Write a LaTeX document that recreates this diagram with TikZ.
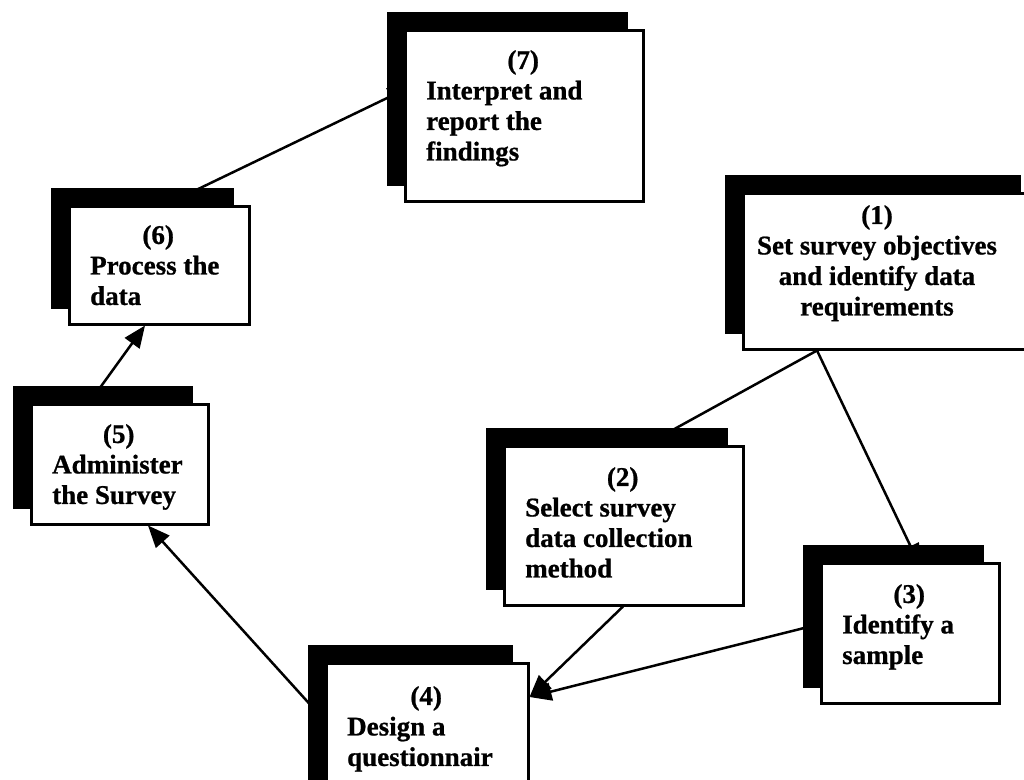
\documentclass[tikz,border=0pt]{standalone}
\usepackage{fontspec}
\setmainfont{Liberation Serif}[BoldFeatures={FakeBold=0.8}]
\usetikzlibrary{calc,shadows,arrows.meta}
\pgfdeclarelayer{background}
\pgfsetlayers{background,main}

\tikzset{
  stepbox/.style={draw, line width=2.5pt, fill=white, rectangle, inner sep=0pt,
    anchor=north west,
    copy shadow={shadow xshift=-17pt, shadow yshift=17pt, fill=black, draw=black}},
  steptext/.style={inner sep=0pt, anchor=north west, align=flush left,
    font=\fontsize{27}{30.5}\selectfont\bfseries},
  link/.style={line width=2.5pt},
  arrowlink/.style={line width=2.5pt, -{Triangle[length=22pt,width=18pt]}}
}
% stage number, centred over the full width of its caption
\newcommand{\stepno}[1]{\makebox[\hsize]{(#1)}}

\begin{document}
\begin{tikzpicture}[x=1pt,y=-1pt]
\useasboundingbox (0,0) rectangle (1024,779);

% the seven survey stages
\node[stepbox, minimum width=293pt, minimum height=156pt] (b1) at (742,192) {};
\node[stepbox, minimum width=239pt, minimum height=159pt] (b2) at (503,445) {};
\node[stepbox, minimum width=178pt, minimum height=140pt] (b3) at (820,562) {};
\node[stepbox, minimum width=202pt, minimum height=135pt] (b4) at (325,662) {};
\node[stepbox, minimum width=177pt, minimum height=120pt] (b5) at (30,403) {};
\node[stepbox, minimum width=180pt, minimum height=118pt] (b6) at (68,205) {};
\node[stepbox, minimum width=238pt, minimum height=171pt] (b7) at (404,29) {};

% stage captions
\node[steptext, anchor=north, align=center] (t1) at (877,205) {(1)\\Set survey objectives\\and identify data\\requirements};
\node[steptext, text width=195pt] (t2) at ($(b2.north west)+(22,22)$) {\stepno{2}\\Select survey\\data collection\\method};
\node[steptext, text width=134pt] (t3) at ($(b3.north west)+(22,22)$) {\stepno{3}\\Identify a\\sample};
\node[steptext, text width=158pt] (t4) at ($(b4.north west)+(22,24)$) {\stepno{4}\\Design a\\questionnair};
\node[steptext, text width=133pt] (t5) at ($(b5.north west)+(22,21)$) {\stepno{5}\\Administer\\the Survey};
\node[steptext, text width=136pt] (t6) at ($(b6.north west)+(22,20)$) {\stepno{6}\\Process the\\data};
\node[steptext, text width=194pt] (t7) at ($(b7.north west)+(22,21)$) {\stepno{7}\\Interpret and\\report the\\findings};

% connectors run behind the boxes
\begin{pgfonlayer}{background}
\draw[arrowlink] ($(b1.south west)+(75,0)$) -- ($(b2.north west)+(106,20)$);
\draw[arrowlink] ($(b1.south west)+(75,0)$) -- ($(b3.north west)+(100,4)$);
\draw[arrowlink] ($(b2.south west)+(120,0)$) -- ($(b4.north east)+(0,35)$);
\draw[arrowlink] ($(b3.north west)+(0,62)$) -- ($(b4.north east)+(0,35)$);
\draw[arrowlink] ($(b4.north west)+(0,59)$) -- ($(b5.south west)+(118,0)$);
\draw[arrowlink] ($(b5.north west)+(59,0)$) -- ($(b6.south west)+(77,0)$);
\draw[arrowlink] ($(b6.north west)+(97,0)$) -- ($(b7.north west)+(6,58)$);
\end{pgfonlayer}
\end{tikzpicture}
\end{document}
